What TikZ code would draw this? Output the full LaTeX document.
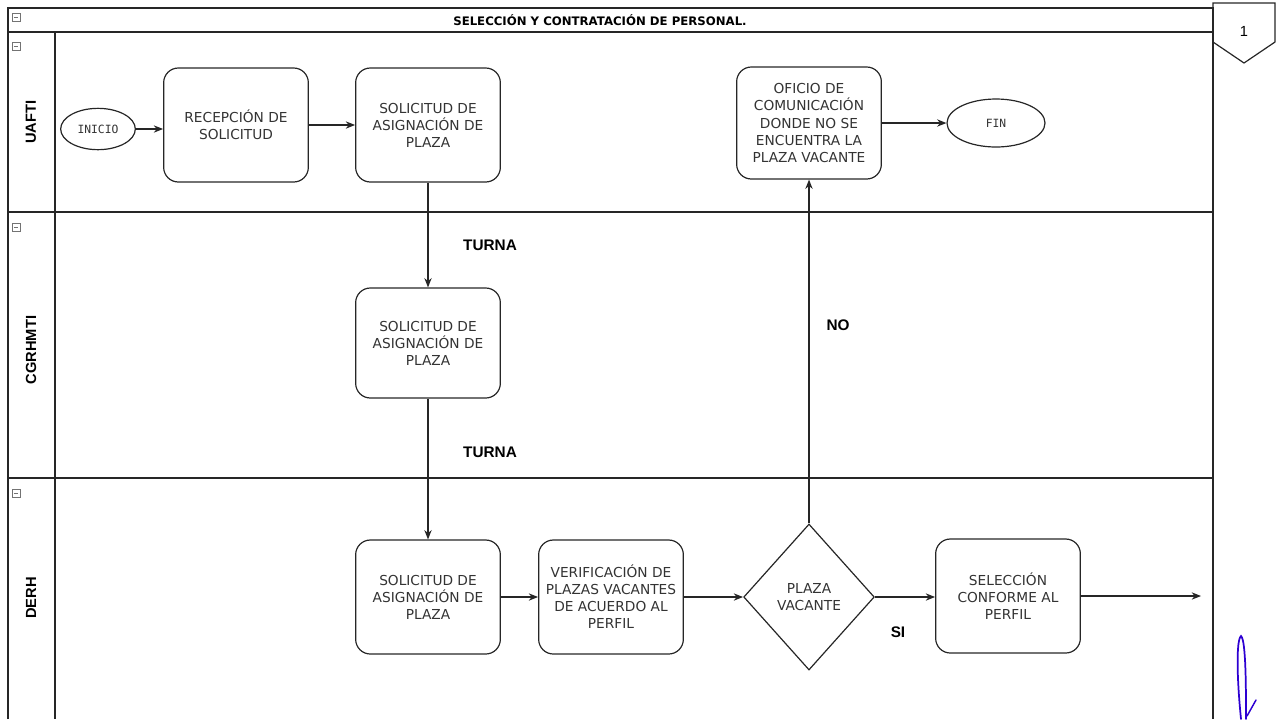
\documentclass[tikz,border=0pt]{standalone}
\usepackage{fontspec}
\setmainfont{DejaVu Sans}
\newfontfamily\lanefont{Liberation Sans}
\newfontfamily\termfont{DejaVu Sans Mono}
\usetikzlibrary{shapes.geometric,arrows.meta}

\begin{document}
\begin{tikzpicture}[x=0.75pt,y=-0.75pt,
  frameline/.style={draw=black!85, line width=0.9pt},
  proc/.style={draw=black!85, line width=0.9pt, rounded corners=11pt,
    minimum width=108.5pt, minimum height=85.5pt, align=center, inner sep=0pt,
    font=\fontsize{10.3}{12.8}\selectfont, text=black!80},
  term/.style={ellipse, draw=black!85, line width=0.9pt, inner sep=0pt,
    font=\termfont\fontsize{8.5}{10}\selectfont, text=black!80},
  decision/.style={diamond, draw=black!85, line width=0.9pt, inner sep=0pt,
    minimum width=98pt, minimum height=109.5pt, align=center,
    font=\fontsize{10.3}{12.8}\selectfont, text=black!80},
  flow/.style={draw=black!85, line width=0.9pt, -{Stealth[length=7pt,width=5.5pt]}},
  cond/.style={font=\lanefont\bfseries\fontsize{11.5}{13}\selectfont},
  lanetitle/.style={font=\lanefont\bfseries\fontsize{11}{13}\selectfont, rotate=90},
  collapse/.style={draw=black!55, line width=0.4pt, minimum size=6pt, inner sep=0pt,
    path picture={\draw[black!55, line width=0.5pt]
      ([xshift=1.4pt]path picture bounding box.west) --
      ([xshift=-1.4pt]path picture bounding box.east);}}
]
\useasboundingbox (0,0) rectangle (1281,719);

% pool frame, header and lanes
\draw[frameline] (8,719) -- (8,8) -- (1213,8) -- (1213,719);
\draw[frameline] (8,32) -- (1213,32);
\draw[frameline] (55,32) -- (55,719);
\draw[frameline] (8,212) -- (1213,212);
\draw[frameline] (8,478) -- (1213,478);

\node[font=\bfseries\fontsize{8.8}{10}\selectfont] (title) at (600,20)
  {SELECCIÓN Y CONTRATACIÓN DE PERSONAL.};

% off-page connector
\draw[frameline] (1213,3) -- (1275,3) -- (1275,42) -- (1244,63) -- (1213,42) -- cycle;
\node[font=\lanefont\fontsize{11}{13}\selectfont] (page) at (1244,31) {1};

% collapse markers
\node[collapse] (c0) at (16,17) {};
\node[collapse] (c1) at (16,46) {};
\node[collapse] (c2) at (16,227) {};
\node[collapse] (c3) at (16,493) {};

% lane titles
\node[lanetitle] (l1) at (31,122) {UAFTI};
\node[lanetitle] (l2) at (31,350) {CGRHMTI};
\node[lanetitle] (l3) at (31,598) {DERH};

% flow nodes
\node[term, minimum width=56pt, minimum height=31pt] (ini) at (98,129) {INICIO};
\node[proc] (rec) at (236,125) {RECEPCIÓN DE\\SOLICITUD};
\node[proc] (solA) at (428,125) {SOLICITUD DE\\ASIGNACIÓN DE\\PLAZA};
\node[proc, minimum height=84pt] (ofi) at (809,123)
  {OFICIO DE\\COMUNICACIÓN\\DONDE NO SE\\ENCUENTRA LA\\PLAZA VACANTE};
\node[term, minimum width=73.5pt, minimum height=36pt] (fin) at (996,123) {FIN};
\node[proc, minimum height=82.5pt] (solB) at (428,343) {SOLICITUD DE\\ASIGNACIÓN DE\\PLAZA};
\node[proc] (solC) at (428,597) {SOLICITUD DE\\ASIGNACIÓN DE\\PLAZA};
\node[proc] (ver) at (611,597) {VERIFICACIÓN DE\\PLAZAS VACANTES\\DE ACUERDO AL\\PERFIL};
\node[decision] (dec) at (809,597) {PLAZA\\VACANTE};
\node[proc] (sel) at (1008,596) {SELECCIÓN\\CONFORME AL\\PERFIL};
\coordinate (next) at (1201,596);

% connectors
\draw[flow] (ini.east) -- (ini.east -| rec.west);
\draw[flow] (rec) -- (solA);
\draw[flow] (solA) -- (solB);
\draw[flow] (solB) -- (solC);
\draw[flow] (solC) -- (ver);
\draw[flow] (ver) -- (dec);
\draw[flow] (dec.north) -- (ofi.south);
\draw[flow] (ofi) -- (fin);
\draw[flow] (dec.east) -- (dec.east -| sel.west);
\draw[flow] (sel.east) -- (next);

% branch and hand-off labels
\node[cond] (t1) at (490,245) {TURNA};
\node[cond] (t2) at (490,452) {TURNA};
\node[cond] (no) at (838,325) {NO};
\node[cond] (si) at (898,632) {SI};

% ink mark in the margin
\draw[blue!65!violet, line width=1.3pt, line cap=round]
  (1241,719) .. controls (1237,680) and (1236,640) .. (1241,636)
  .. controls (1246,640) and (1246,690) .. (1246,719);
\draw[blue!65!violet, line width=1.1pt, line cap=round] (1256,700) -- (1247,716);
\end{tikzpicture}
\end{document}
